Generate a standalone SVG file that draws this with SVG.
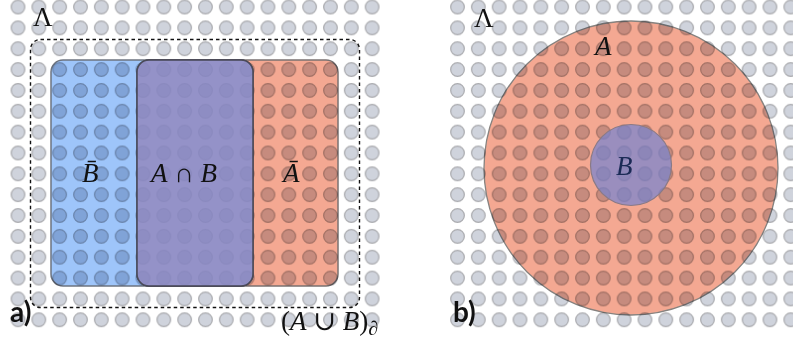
<svg xmlns="http://www.w3.org/2000/svg" width="793" height="343" viewBox="0 0 793 343">
<style>
.math{font-family:"Liberation Serif","DejaVu Serif",serif;font-size:27px;fill:#111}
.it{font-style:italic}
.lab{font-family:Lato,"Liberation Sans",sans-serif;font-weight:bold;font-size:28px;fill:#111}
.mul{mix-blend-mode:multiply}
</style>
<defs>
<pattern id="dots" patternUnits="userSpaceOnUse" x="0" y="0" width="20.83" height="20.85">
<circle cx="10.415" cy="10.425" r="6.8" fill="#cfd3dc" stroke="#a8a9ad" stroke-width="1.2"/>
</pattern>
</defs>
<rect width="793" height="343" fill="#fff"/>
<g id="lattice-a">
<rect x="0" y="0" width="374.94" height="333.6" fill="url(#dots)" transform="translate(7.6,-3.4)"/>
</g>
<g id="lattice-b">
<rect x="0" y="0" width="354.11" height="333.6" fill="url(#dots)" transform="translate(447.1,-3.4)"/>
</g>
<g id="node-Bbar">
<rect class="mul" x="51" y="60" width="202" height="226" rx="12" fill="#9ec5fa" stroke="#6d7480" stroke-width="1.5"/>
</g>
<g id="node-Abar">
<rect class="mul" x="137" y="60" width="201" height="226" rx="12" fill="#f4a892" stroke="#7a7272" stroke-width="1.5"/>
</g>
<g id="node-AcapB">
<rect x="137" y="60" width="116" height="226" rx="12" fill="#9396d6" fill-opacity="0.8" stroke="#4a4a58" stroke-width="1.5"/>
</g>
<g id="node-boundary">
<rect x="30.5" y="39.5" width="329" height="268" rx="10" fill="none" stroke="#111" stroke-width="1.4" stroke-dasharray="3.5 3"/>
</g>
<g id="node-A">
<circle class="mul" cx="631" cy="168" r="147" fill="#f4a892" stroke="#86827f" stroke-width="1.3"/>
</g>
<g id="node-B">
<circle cx="631" cy="165" r="40.5" fill="#7784ce" fill-opacity="0.72" stroke="#8a7a86" stroke-width="1.2"/>
</g>
<g id="connectors"></g>
<g id="labels">
<text class="math" x="33" y="26">Λ</text>
<text class="math" x="474" y="27">Λ</text>
<text class="math it" x="82" y="182">B̄</text>
<text class="math" x="151" y="182"><tspan class="it">A</tspan> ∩ <tspan class="it">B</tspan></text>
<text class="math it" x="283" y="182">Ā</text>
<text class="math it" x="595" y="55">A</text>
<text class="math it" x="616" y="175" style="fill:#1a2a55">B</text>
<text class="math" x="281" y="330">(<tspan class="it">A</tspan> ∪ <tspan class="it">B</tspan>)<tspan font-size="20" dy="5">∂</tspan></text>
<text class="lab" x="10" y="322">a)</text>
<text class="lab" x="453" y="322">b)</text>
</g>
</svg>
